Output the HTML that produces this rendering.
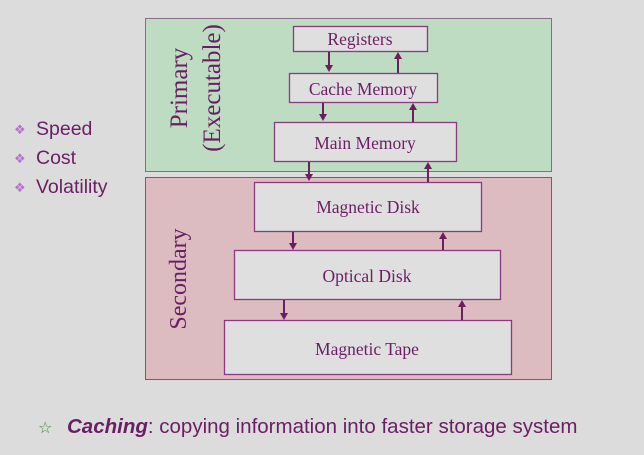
<!DOCTYPE html>
<html><head><style>body{margin:0;background:#dcdcdc;}svg{display:block}</style></head>
<body>
<svg width="644" height="455" viewBox="0 0 644 455" xmlns="http://www.w3.org/2000/svg">
<rect width="644" height="455" fill="#dcdcdc"/>
<rect x="145.5" y="18.5" width="406" height="153" fill="#bddcc2" stroke="#8a6a8a" stroke-width="1"/>
<rect x="145.5" y="177.5" width="406" height="202" fill="#dcbcc0" stroke="#9a4a7a" stroke-width="1"/>
<g fill="#e0dfe0" stroke="#8a3a7f" stroke-width="1.3">
<rect x="293.5" y="26.5" width="134" height="25"/>
<rect x="289.5" y="73.5" width="148" height="29"/>
<rect x="274.5" y="122.5" width="182" height="39"/>
<rect x="254.5" y="182.5" width="227" height="49"/>
<rect x="234.5" y="250.5" width="266" height="49"/>
<rect x="224.5" y="320.5" width="287" height="54"/>
</g>
<g font-family="Liberation Serif, serif" fill="#6a1f63" text-anchor="middle">
<text x="360" y="45" font-size="17.5">Registers</text>
<text x="363" y="95" font-size="17.5">Cache Memory</text>
<text x="365" y="149" font-size="17.5">Main Memory</text>
<text x="368" y="213" font-size="17.5">Magnetic Disk</text>
<text x="367" y="282" font-size="17.5">Optical Disk</text>
<text x="367" y="355" font-size="17.5">Magnetic Tape</text>
<text transform="translate(187,88) rotate(-90)" font-size="25">Primary</text>
<text transform="translate(220,88) rotate(-90)" font-size="25">(Executable)</text>
<text transform="translate(186,279) rotate(-90)" font-size="24">Secondary</text>
</g>
<g stroke="#6a1f5f" stroke-width="2" fill="#6a1f5f">
<line x1="329" y1="52" x2="329" y2="66"/><path d="M325,65 L333,65 L329,72 Z" stroke="none"/>
<line x1="398" y1="73" x2="398" y2="59"/><path d="M394,59 L402,59 L398,52 Z" stroke="none"/>
<line x1="323" y1="103" x2="323" y2="115"/><path d="M319,114 L327,114 L323,121 Z" stroke="none"/>
<line x1="413" y1="122" x2="413" y2="110"/><path d="M409,110 L417,110 L413,103 Z" stroke="none"/>
<line x1="309" y1="162" x2="309" y2="175"/><path d="M305,174 L313,174 L309,181 Z" stroke="none"/>
<line x1="428" y1="182" x2="428" y2="169"/><path d="M424,169 L432,169 L428,162 Z" stroke="none"/>
<line x1="293" y1="232" x2="293" y2="243"/><path d="M289,243 L297,243 L293,250 Z" stroke="none"/>
<line x1="443" y1="250" x2="443" y2="239"/><path d="M439,239 L447,239 L443,232 Z" stroke="none"/>
<line x1="284" y1="300" x2="284" y2="313"/><path d="M280,313 L288,313 L284,320 Z" stroke="none"/>
<line x1="462" y1="320" x2="462" y2="307"/><path d="M458,307 L466,307 L462,300 Z" stroke="none"/>
</g>
<g font-family="Liberation Sans, sans-serif" font-size="19.5" fill="#6a1f63">
<text x="14" y="134" fill="#b86fd0" font-size="13">❖</text><text x="36" y="135">Speed</text>
<text x="14" y="163" fill="#b86fd0" font-size="13">❖</text><text x="36" y="164">Cost</text>
<text x="14" y="192" fill="#b86fd0" font-size="13">❖</text><text x="36" y="193">Volatility</text>
</g>
<text x="38" y="433" font-family="DejaVu Sans, sans-serif" font-size="16" fill="#3a8a3a">☆</text>
<text x="67" y="433" font-family="Liberation Sans, sans-serif" font-size="20.5" fill="#6a1f63"><tspan font-weight="bold" font-style="italic">Caching</tspan>: copying information into faster storage system</text>
</svg>
</body></html>
